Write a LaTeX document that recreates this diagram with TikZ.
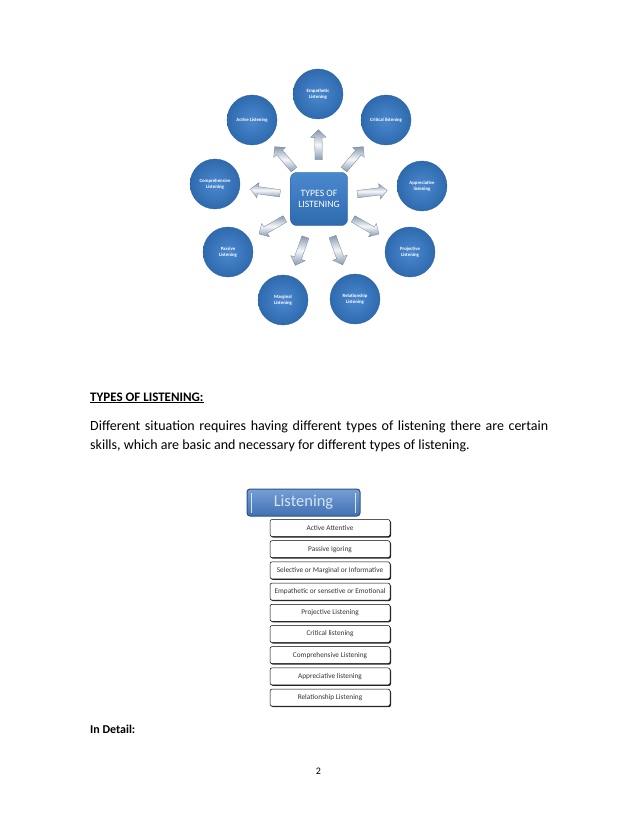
\documentclass[tikz,border=0pt]{standalone}
\usepackage{fontspec}
\setmainfont{Carlito}
\usetikzlibrary{positioning,shapes.arrows,shadows,calc,backgrounds}

\definecolor{ballin}{HTML}{4A88CE}
\definecolor{ballout}{HTML}{2F6AAE}
\definecolor{balledge}{HTML}{2A5F9E}
\definecolor{arrlight}{HTML}{F5F7FA}
\definecolor{arrdark}{HTML}{8798B0}
\definecolor{hdtop}{HTML}{759FD5}
\definecolor{hdbot}{HTML}{4171B2}
\definecolor{hdline}{HTML}{2E5082}
\definecolor{hdbar}{HTML}{D3E4F5}
\definecolor{trunkc}{HTML}{36588D}

\begin{document}
\begin{tikzpicture}[
    x=1pt,y=-1pt,
    every node/.style={font=\fontsize{14}{16}\selectfont},
    ball/.style={circle,minimum size=50pt,inner sep=0pt,shading=radial,
      inner color=ballin,outer color=ballout,draw=balledge,line width=0.3pt,
      text=white,align=center,font=\fontsize{4.8}{5.6}\selectfont\bfseries},
    hub/.style={rectangle,rounded corners=6pt,minimum width=57pt,minimum height=53pt,
      top color=ballin,bottom color=ballout,draw=balledge,line width=0.4pt,
      text=white,align=center,font=\fontsize{9.7}{11}\selectfont},
    blk/.style={single arrow,minimum height=30pt,minimum width=15pt,inner sep=3.5pt,
      single arrow head extend=4pt,sloped,allow upside down,
      top color=arrdark,bottom color=arrdark,middle color=arrlight,
      draw=arrdark!85!black,line width=0.3pt},
    hdr/.style={rectangle,rounded corners=3pt,minimum width=113pt,minimum height=27pt,
      top color=hdtop,bottom color=hdbot,draw=hdline,line width=1pt,
      text=hdbar,font=\fontsize{16.5}{18}\selectfont},
    itm/.style={rectangle,rounded corners=2pt,minimum width=120pt,minimum height=17pt,
      inner sep=1pt,fill=white,draw=black,line width=0.5pt,
      drop shadow={shadow xshift=1pt,shadow yshift=-1pt,fill=black!85,opacity=1},
      text=black!80,font=\fontsize{7.3}{8}\selectfont},
    trunk/.style={draw=trunkc,line width=2pt},
    txt/.style={anchor=base west,inner sep=0pt}
  ]
  \fill[white] (0,0) rectangle (638,826);
  \useasboundingbox (0,0) rectangle (638,826);

  % wheel of listening types
  \node[hub] (hub) at (319,199) {TYPES OF\\LISTENING};
  \node[ball] (emp) at (318,94) {Empathetic\\Listening};
  \node[ball] (act) at (252,120) {Active Listening};
  \node[ball] (cri) at (386,120) {Critical listening};
  \node[ball] (com) at (215,184) {Comprehensive\\Listening};
  \node[ball] (app) at (422,186) {Appreciative\\listening};
  \node[ball] (pas) at (228,252) {Passive\\Listening};
  \node[ball] (pro) at (410,252) {Projective\\Listening};
  \node[ball] (mar) at (283,300) {Marginal\\Listening};
  \node[ball] (rel) at (355,299) {Relationship\\Listening};
  % block arrows from the hub
  \foreach \c in {emp,act,cri,com,app,pas,pro,mar,rel}{
    \path (hub.center) -- node[blk,pos=0.5] (ar-\c) {} (\c.center);}

  % text
  \node[txt,font=\fontsize{13}{15}\selectfont\bfseries] (ttl) at (90,401)
    {\underline{TYPES OF LISTENING:}};
  \node[txt] (par1) at (90,430)
    {\makebox[458pt][s]{Different situation requires having different types of listening there are certain}};
  \node[txt] (par2) at (90,449)
    {skills, which are basic and necessary for different types of listening.};

  % listening tree
  \node[hdr] (lis) at (303.5,502.5) {Listening};
  \draw[hdbar,line width=1.3pt] ($(lis.north west)+(5,4)$) -- ($(lis.south west)+(5,-4)$);
  \draw[hdbar,line width=1.3pt] ($(lis.north east)+(-5,4)$) -- ($(lis.south east)+(-5,-4)$);
  \coordinate (tr) at ($(lis.south west)+(13,0)$);
  \foreach \t [count=\i] in {Active Attentive,Passive Igoring,
      Selective or Marginal or Informative,Empathetic or sensetive or Emotional,
      Projective Listening,Critical listening,Comprehensive Listening,
      Appreciative listening,Relationship Listening}{
    \node[itm] (b\i) at (330,{528+21.2*(\i-1)}) {\t};}
  \begin{scope}[on background layer]
    \foreach \i in {1,...,9}{\draw[trunk] (tr) |- (b\i.west);}
  \end{scope}

  \node[txt,font=\fontsize{12}{14}\selectfont\bfseries] (det) at (90,733) {In Detail:};
  \node[anchor=base,inner sep=0pt,font=\fontsize{10}{12}\selectfont] (pg) at (318.5,774) {2};
\end{tikzpicture}
\end{document}
